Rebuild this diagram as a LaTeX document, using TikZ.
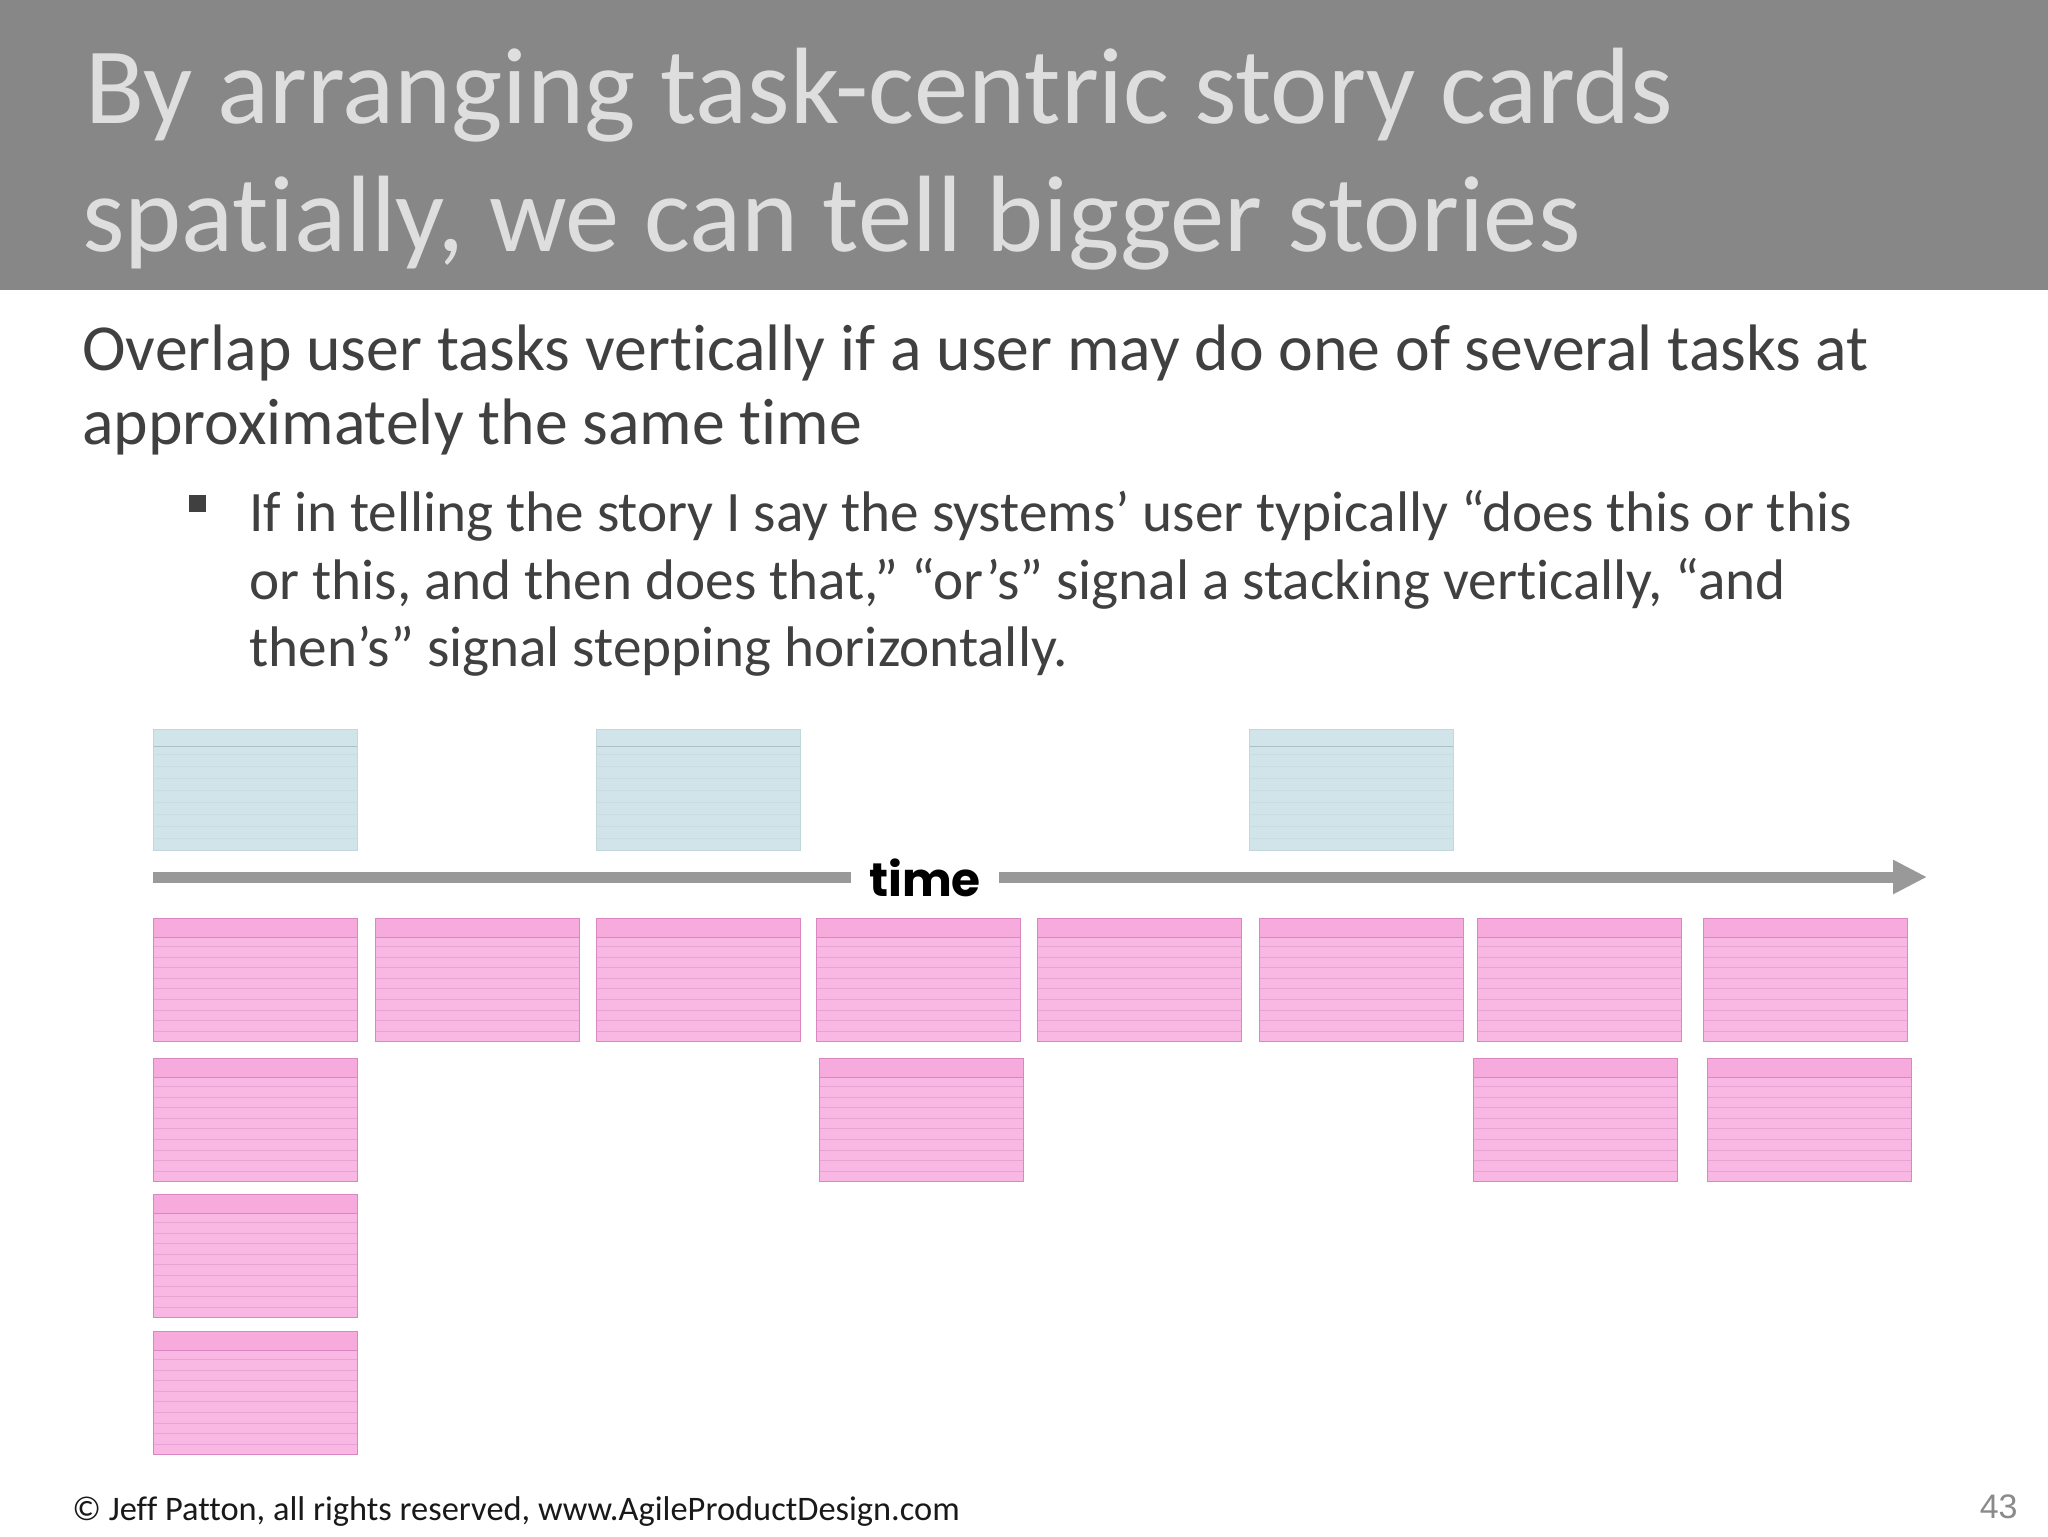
\documentclass[tikz,border=0pt]{standalone}
\usepackage{fontspec}
\setmainfont{Carlito}[Ligatures=NoCommon]
\newfontfamily\timefont{Poppins Bold}
\newfontfamily\numfont{Liberation Sans}
\usetikzlibrary{arrows.meta}
\definecolor{band}{HTML}{878787}
\definecolor{titletext}{HTML}{DEDEDE}
\definecolor{bodytext}{HTML}{404040}
\definecolor{arrowgray}{HTML}{999999}
\definecolor{cardpink}{HTML}{F9B8E4}
\definecolor{cardpinktop}{HTML}{F7AADC}
\definecolor{pinkedge}{HTML}{DA86C2}
\definecolor{pinkrule}{HTML}{DC95C8}
\definecolor{cardblue}{HTML}{D0E4EA}
\definecolor{blueedge}{HTML}{C2D8DD}
\definecolor{bluerule}{HTML}{A7C1C6}
\definecolor{pagenum}{HTML}{8A8A8A}
\tikzset{
  pinkcard/.style={rectangle, anchor=north west, inner sep=0pt,
    minimum width=102pt, minimum height=61.5pt,
    fill=cardpink, draw=pinkedge, line width=0.5pt,
    path picture={
      \fill[cardpinktop] (path picture bounding box.north west) rectangle ([yshift=-9.5pt]path picture bounding box.north east);
      \draw[pinkedge, line width=0.6pt] ([yshift=-9.5pt]path picture bounding box.north west) -- ([yshift=-9.5pt]path picture bounding box.north east);
      \foreach \k in {0,...,8}{
        \draw[pinkrule, line width=0.45pt, opacity=0.6] ([yshift={-14pt-\k*5.3pt}]path picture bounding box.north west) -- ([yshift={-14pt-\k*5.3pt}]path picture bounding box.north east);
      }
    }},
  bluecard/.style={rectangle, anchor=north west, inner sep=0pt,
    minimum width=102pt, minimum height=60.5pt,
    fill=cardblue, draw=blueedge, line width=0.4pt,
    path picture={
      \draw[bluerule, line width=0.6pt] ([yshift=-8.5pt]path picture bounding box.north west) -- ([yshift=-8.5pt]path picture bounding box.north east);
      \foreach \k in {0,...,7}{
        \draw[bluerule, line width=0.3pt, opacity=0.2] ([yshift={-12.5pt-\k*6pt}]path picture bounding box.north west) -- ([yshift={-12.5pt-\k*6pt}]path picture bounding box.north east);
      }
    }},
  titlestyle/.style={anchor=base west, inner sep=0pt, text=titletext, font=\fontsize{54.3pt}{64pt}\selectfont},
  substyle/.style={anchor=base west, inner sep=0pt, text=bodytext, font=\fontsize{32.85pt}{37pt}\selectfont},
  bulletstyle/.style={anchor=base west, inner sep=0pt, text=bodytext, font=\fontsize{28.6pt}{34pt}\selectfont},
  timebar/.style={draw=arrowgray, line width=5.5pt},
}
\begin{document}
\begin{tikzpicture}[x=0.5pt, y=-0.5pt]
\useasboundingbox[fill=white] (0,0) rectangle (2048,1536);
% title band
\fill[band] (0,0) rectangle (2048,290);
\node[titlestyle] (t1) at (85,124) {By arranging task-centric story cards};
\node[titlestyle] (t2) at (82,251) {spatially, we can tell bigger stories};
% body text
\node[substyle] (s1) at (82,370) {Overlap user tasks vertically if a user may do one of several tasks at};
\node[substyle] (s2) at (82,444) {approximately the same time};
\fill[bodytext] (189,495) rectangle (206,512);
\node[bulletstyle] (b1) at (249,531) {If in telling the story I say the systems’ user typically “does this or this};
\node[bulletstyle] (b2) at (249,599) {or this, and then does that,” “or’s” signal a stacking vertically, “and};
\node[bulletstyle] (b3) at (249,666) {then’s” signal stepping horizontally.};
% blue cards
\node[bluecard] (u1) at (153,729) {};
\node[bluecard] (u2) at (596,729) {};
\node[bluecard] (u3) at (1249,729) {};
% time arrow
\coordinate (tstart) at (153,877);
\coordinate (tend) at (1927,877);
\node[anchor=base, inner xsep=9pt, inner ysep=0pt, font=\timefont\fontsize{23.5pt}{28pt}\selectfont, text=black] (time) at (925,896) {time};
\draw[timebar] (tstart) -- (tstart -| time.west);
\draw[timebar, -{Triangle[length=17pt, width=16pt]}] (tstart -| time.east) -- (tend);
% pink cards row 1
\node[pinkcard] (p11) at (153,918) {};
\node[pinkcard] (p12) at (375,918) {};
\node[pinkcard] (p13) at (596,918) {};
\node[pinkcard] (p14) at (816,918) {};
\node[pinkcard] (p15) at (1037,918) {};
\node[pinkcard] (p16) at (1259,918) {};
\node[pinkcard] (p17) at (1477,918) {};
\node[pinkcard] (p18) at (1703,918) {};
% row 2
\node[pinkcard] (p21) at (153,1058) {};
\node[pinkcard] (p24) at (819,1058) {};
\node[pinkcard] (p27) at (1473,1058) {};
\node[pinkcard] (p28) at (1707,1058) {};
% rows 3 and 4
\node[pinkcard] (p31) at (153,1194) {};
\node[pinkcard] (p41) at (153,1331) {};
% footer
\node[anchor=base west, inner sep=0pt, text=black!90, font=\fontsize{17.2pt}{22pt}\selectfont] (foot) at (72,1520) {© Jeff Patton, all rights reserved, www.AgileProductDesign.com};
\node[anchor=base east, inner sep=0pt, text=pagenum, font=\numfont\fontsize{17pt}{20pt}\selectfont] (pg) at (2018,1518) {43};
\end{tikzpicture}
\end{document}
